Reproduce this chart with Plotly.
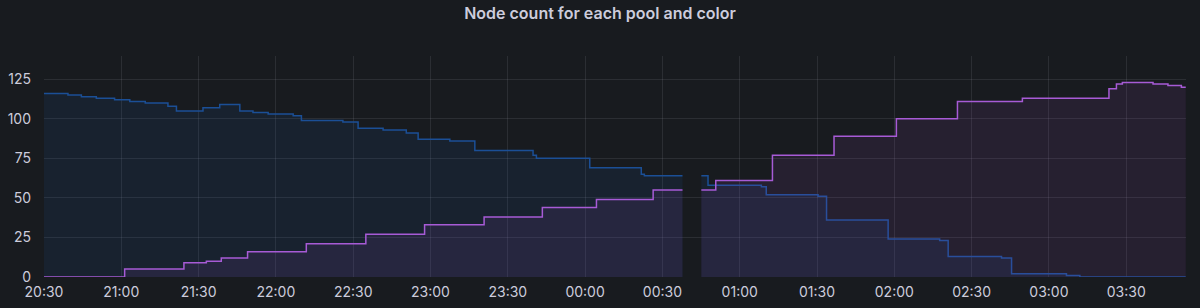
import pandas as pd
import plotly.graph_objects as go

# Start of window and minute offsets of each step change
START = "2023-01-01 20:30:00"

blue_minutes = [0, 9.3, 14.5, 20.3, 27.4, 33.3, 39.3, 48.1, 51.4, 61.7, 68.2, 76, 81.1, 87,
                96.7, 99.9, 116, 121.9, 131.6, 140.6, 145.2, 157.5, 167.2, 189.8, 191.1,
                211.8, 231.8, 233, 247.8, 247.9, 255.1, 257.7, 278.4, 280.3, 300.4, 303.7,
                327.6, 347.6, 350.9, 371.6, 375.5, 396.8, 402, 443.1]
blue_values = [116, 115, 114, 113, 112, 111, 110, 108, 105, 107, 109, 105, 104, 103,
               102, 99, 98, 94, 93, 91, 87, 86, 80, 77, 75,
               69, 65, 64, 64, None, 64, 58, 57, 52, 51, 36,
               24, 23, 13, 12, 2, 1, 0, 0]

purple_minutes = [0, 31.3, 54.3, 63, 68.8, 79, 101.8, 124.9, 147.7, 170.8, 193.4, 214.4,
                  236.4, 247.8, 247.9, 255.1, 260.7, 282.7, 306.6, 330.8, 354.5, 379.7,
                  413.3, 416.2, 418.5, 430.4, 436.2, 441.4, 443.1]
purple_values = [0, 5, 9, 10, 12, 16, 21, 27, 33, 38, 44, 49,
                 55, 55, None, 55, 61, 77, 89, 100, 111, 113,
                 119, 122, 123, 122, 121, 120, 120]

x_range_minutes = [0, 443.2]
y_ticks = [0, 25, 50, 75, 100, 125]
y_max = 139.7
title = "Node count for each pool and color"

start = pd.Timestamp(START)


def to_time(mins):
    return [start + pd.Timedelta(minutes=m) for m in mins]


def segments(mins, vals):
    """Split a series at its None entries (data gaps)."""
    segs, cur_x, cur_y = [], [], []
    for m, v in zip(mins, vals):
        if v is None:
            if cur_x:
                segs.append((cur_x, cur_y))
            cur_x, cur_y = [], []
        else:
            cur_x.append(m)
            cur_y.append(v)
    if cur_x:
        segs.append((cur_x, cur_y))
    return segs


BG = "#181b1f"
TXT = "rgb(204,204,220)"
GRID = "rgba(204,204,220,0.11)"

series = [
    (blue_minutes, blue_values, "#1b4f96", "rgba(31,96,196,0.10)", "blue"),
    (purple_minutes, purple_values, "#a75bd6", "rgba(163,82,204,0.10)", "purple"),
]

fig = go.Figure()
for mins, vals, lc, fc, name in series:
    for sx, sy in segments(mins, vals):
        fig.add_trace(go.Scatter(
            x=to_time(sx), y=sy, mode="lines", line_shape="hv",
            line=dict(color=lc, width=1.5), fill="tozeroy",
            fillcolor=fc, name=name))

fig.update_layout(
    width=1200, height=308,
    margin=dict(l=44, r=14, t=56, b=31, autoexpand=False),
    paper_bgcolor=BG, plot_bgcolor=BG,
    showlegend=False,
    font=dict(family="Inter", size=14, color=TXT),
    title=dict(text=title, x=0.5, xref="container", xanchor="center",
               y=0.955, yref="container", yanchor="middle",
               font=dict(family="Inter", size=16, color=TXT, weight=600)),
)
fig.update_xaxes(
    range=to_time(x_range_minutes), type="date", tickformat="%H:%M",
    dtick=30 * 60 * 1000, tick0=START, automargin=False,
    showgrid=True, gridcolor=GRID, gridwidth=1, zeroline=False, showline=False,
    ticks="", ticklabelstandoff=5, tickfont=dict(size=14, color=TXT))
fig.update_yaxes(
    range=[0, y_max], tickvals=y_ticks, automargin=False,
    showgrid=True, gridcolor=GRID, gridwidth=1, zeroline=False, showline=False,
    ticks="", ticklabelstandoff=12, tickfont=dict(size=14, color=TXT))

fig.write_html("out.html")
